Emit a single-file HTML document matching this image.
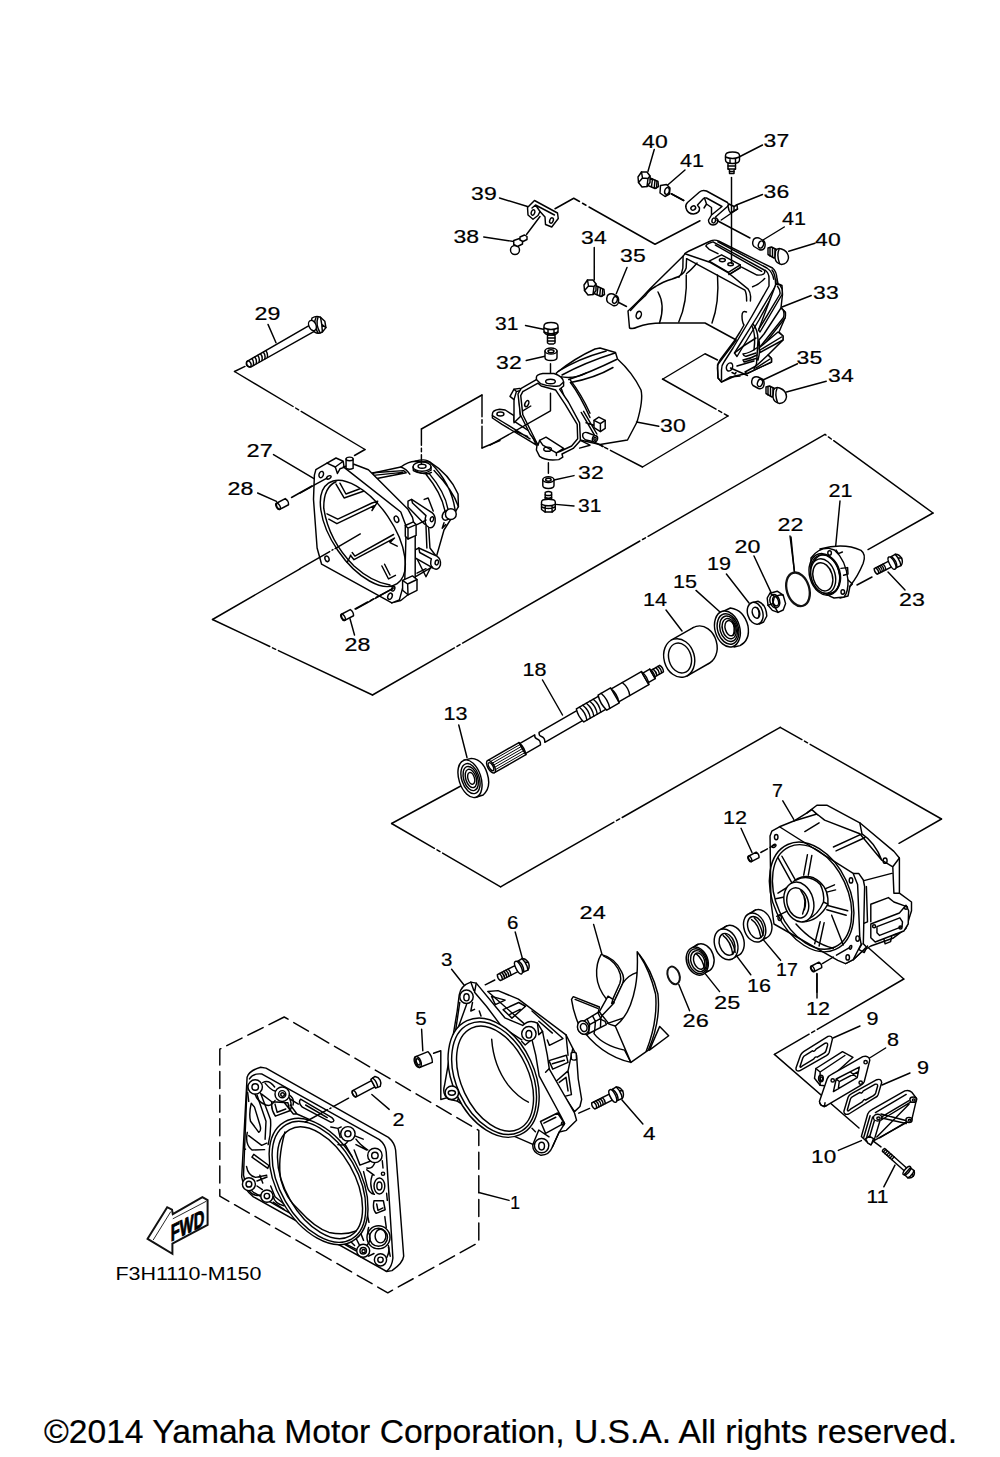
<!DOCTYPE html>
<html lang="en">
<head>
<meta charset="utf-8">
<title>Jet Unit 1 - Parts Diagram</title>
<style>
html,body{margin:0;padding:0;background:#fff;}
body{width:1000px;height:1457px;overflow:hidden;position:relative;font-family:"Liberation Sans",Arial,Helvetica,sans-serif;}
svg{position:absolute;left:0;top:0;display:block;}
.d{fill:none;stroke:#000;stroke-width:1.45;stroke-linecap:round;stroke-linejoin:round;}
.d path,.d line,.d polyline,.d ellipse,.d circle,.d rect,.d polygon{vector-effect:non-scaling-stroke;}
.w{fill:#fff;}
.k{fill:#000;}
.t{stroke-width:1;}
.ph{stroke-dasharray:42 4 3 4;}
text{font-family:"Liberation Sans",Arial,Helvetica,sans-serif;fill:#000;stroke:#000;stroke-width:0.2;}
.n{font-size:18.4px;}
</style>
</head>
<body>
<svg width="1000" height="1457" viewBox="0 0 1000 1457">
<rect x="0" y="0" width="1000" height="1457" fill="#fff"/>
<!-- 10_tileA -->
<g class="d" transform="translate(480 120) scale(0.25)">
<!-- phantom line 39 -> 36 -->
<path d="M300,355 L375,313 L398,326 M410,333 L424,341 M436,348 L700,497 L880,403"/>
<!-- bracket 39 -->
<path class="w" d="M190,350 L218,322 L310,372 L313,394 L287,428 L262,418 L260,388 L240,366 L232,382 L212,397 L192,380 Z"/>
<path d="M222,340 L298,380 M240,366 L222,340 L208,352"/>
<ellipse cx="212" cy="370" rx="7" ry="11" transform="rotate(20 212 370)"/>
<ellipse cx="286" cy="402" rx="7" ry="11" transform="rotate(20 286 402)"/>
<!-- leaders -->
<path d="M78,312 L190,346 M15,468 L135,486 M186,458 L240,386"/>
<!-- nipple 38 -->
<circle class="w" cx="140" cy="520" r="18"/>
<path class="w" d="M135,482 L158,474 L170,482 L170,496 L150,506 L135,498 Z"/>
<path class="w" d="M160,468 L178,460 L188,466 L188,478 L172,486 L160,480 Z"/>
<!-- bolt 40 left -->
<path d="M697,118 L672,205"/>
<path class="w" d="M680,232 L712,246 L714,266 L700,274 L672,262 Z"/>
<path d="M690,236 L686,266 M700,241 L697,270 M708,245 L706,272"/>
<path class="w" d="M632,228 L646,208 L668,208 L680,224 L680,250 L668,266 L648,268 L634,250 Z"/>
<path d="M646,208 L650,232 L634,250 M650,232 L672,234 L680,224 M672,234 L668,266"/>
<!-- collar 41 left -->
<path d="M820,200 L745,265 M765,295 L815,322"/>
<path class="w" d="M722,262 L746,258 L760,272 L758,296 L740,306 L720,292 Z"/>
<ellipse cx="748" cy="284" rx="9" ry="14" transform="rotate(15 748 284)"/>
<!-- 34 / 35 left leaders -->
<path d="M457,510 L457,640 M588,590 L545,695"/>
<!-- bolt 34 left -->
<path class="w" d="M462,662 L496,678 L498,698 L484,706 L456,694 Z"/>
<path d="M472,668 L468,698 M482,673 L479,702 M491,677 L489,704"/>
<path class="w" d="M416,660 L430,640 L452,640 L464,656 L464,682 L452,698 L432,700 L418,682 Z"/>
<path d="M430,640 L434,664 L418,682 M434,664 L456,666 L464,656 M456,666 L452,698"/>
</g>
<g class="n">
<text x="642.1" y="147.8" textLength="25.6" lengthAdjust="spacingAndGlyphs">40</text>
<text x="680.1" y="167.3" textLength="24.0" lengthAdjust="spacingAndGlyphs">41</text>
<text x="471.1" y="199.8" textLength="25.6" lengthAdjust="spacingAndGlyphs">39</text>
<text x="453.5" y="243" textLength="25.6" lengthAdjust="spacingAndGlyphs">38</text>
<text x="581.1" y="243.8" textLength="25.6" lengthAdjust="spacingAndGlyphs">34</text>
<text x="620.1" y="261.8" textLength="25.6" lengthAdjust="spacingAndGlyphs">35</text>
</g>
<!-- 11_tileB -->
<g class="d" transform="translate(660 120) scale(0.25)">
<!-- leaders -->
<path d="M410,100 L318,147 M410,298 L305,340 M497,428 L412,480 M620,493 L515,525"/>
<!-- vertical line from 37 -->
<!-- bolt 37 -->
<path class="w" d="M272,172 L272,196 L278,200 L278,214 L296,214 L296,200 L302,196 L302,172 Z"/>
<path d="M272,184 L302,184 M272,196 L302,196 M278,206 L296,206"/>
<path class="w" d="M262,142 Q262,128 290,128 Q318,128 318,142 L318,160 Q318,174 290,174 Q262,174 262,160 Z"/>
<path d="M262,148 Q290,160 318,148 M280,156 L280,173 M302,155 L302,172"/>
<!-- line 41L to bracket -->
<path d="M45,295 L95,322"/>
<!-- bracket 36 -->
<path class="w" d="M104,352 Q100,340 110,330 L158,288 Q170,278 186,284 L270,330 Q276,336 272,344 L222,388 L232,400 Q232,418 212,420 Q194,418 194,400 L206,380 L248,346 L186,312 Q178,310 172,316 L150,340 L158,352 Q160,372 134,376 Q110,376 104,352 Z"/>
<path d="M178,312 L186,336 L206,350 L206,378 M186,336 L176,352"/>
<ellipse cx="133" cy="352" rx="10" ry="8" transform="rotate(-35 133 352)"/>
<ellipse cx="215" cy="402" rx="7" ry="10" transform="rotate(15 215 402)"/>
<!-- tab -->
<path class="w" d="M272,344 L276,336 L296,346 L308,340 L310,356 L282,372 L276,362 Z"/>
<path d="M296,346 L296,362 M310,356 L245,400"/>
<!-- line from bracket to collar 41R -->
<path d="M228,402 L360,472"/>
<!-- collar 41R -->
<path class="w" d="M372,484 Q376,468 396,472 L416,484 Q424,496 418,512 Q410,524 396,518 L376,506 Q368,498 372,484 Z"/>
<ellipse cx="404" cy="498" rx="10" ry="15" transform="rotate(20 404 498)"/>
<!-- bolt 40R -->
<path class="w" d="M432,512 L446,508 L470,520 L470,546 L456,552 L432,538 Z"/>
<path d="M440,510 L440,544 M450,512 L450,548 M460,516 L460,550"/>
<path class="w" d="M462,524 Q470,510 486,516 Q514,526 514,552 Q510,576 486,578 Q462,572 460,552 Z"/>
<path d="M476,518 Q466,540 478,574"/>
</g>
<g class="n">
<text x="763.6" y="147.3" textLength="25.6" lengthAdjust="spacingAndGlyphs">37</text>
<text x="763.6" y="197.8" textLength="25.6" lengthAdjust="spacingAndGlyphs">36</text>
<text x="782.1" y="224.8" textLength="24.0" lengthAdjust="spacingAndGlyphs">41</text>
<text x="815.1" y="245.8" textLength="25.6" lengthAdjust="spacingAndGlyphs">40</text>
</g>
<!-- 12_tileC -->
<g class="d" transform="translate(600 230) scale(0.25)">
<!-- phantom under 33 -->
<path d="M470,520 L420,495 L250,597"/>
<!-- cover 33 silhouette -->
<path class="w" d="M118,392 L112,324 Q150,290 200,235 L335,102 Q338,92 352,86 L440,45 Q458,36 476,45 L690,152 Q706,165 708,195 L712,215 L728,222 L730,258 L724,310 L742,330 L740,352 L716,408 L732,424 L732,440 L672,500 L686,514 L686,528 L588,574 L540,584 L486,608 L472,592 L470,540 L545,440 L420,372 L250,372 Q190,372 150,388 Q130,398 118,392 Z"/>
<!-- ear hole -->
<ellipse cx="155" cy="340" rx="10" ry="15" transform="rotate(20 155 340)"/>
<!-- top of 33 (9.09x coords, origin 680,235) -->
<g transform="translate(320 20) scale(0.44)">
<path d="M345,62 L790,300 Q842,336 852,402"/>
<path d="M235,100 Q240,84 268,74 L300,62 L762,316 Q780,332 762,352 Q745,368 700,364 L560,292 M235,100 L265,130 L345,170 M322,92 L742,330"/>
<path class="w" d="M265,238 L378,180 L548,272 L548,295 L445,360 L440,340 Z"/>
<path d="M440,340 L548,272 M460,352 L548,300"/>
<ellipse cx="385" cy="228" rx="27" ry="15"/>
<ellipse cx="460" cy="266" rx="25" ry="14"/>
<path d="M45,170 L265,245 M265,245 L440,345 L620,492 Q640,520 642,560 L640,600"/>
<path d="M60,215 L590,502 Q606,530 606,600"/>
<path d="M28,192 L26,300 Q20,350 -10,385 M60,215 L56,300 Q40,350 -5,372 M155,255 Q100,320 60,350"/>
<path d="M660,470 Q720,450 770,396"/>
</g>
<!-- hood contours -->
<path d="M315,186 Q300,192 289,196 Q250,208 224,225 Q195,240 182,262"/>
<path d="M232,248 Q262,300 238,372"/>
<path d="M345,180 Q350,290 315,368"/>
<path d="M470,180 Q478,290 448,372"/>
<path d="M182,262 Q150,290 122,322"/>
<!-- leg (10x coords) -->
<g transform="translate(400 120) scale(0.4)">
<path d="M465,520 Q420,500 420,560 Q420,620 440,650 L400,720 L350,800 L200,1000 Q175,1030 175,1080 L180,1180 L215,1220 L300,1170 L400,1160"/>
<path d="M650,100 Q690,130 690,180 L690,260 L520,560 L330,880 L240,1020 Q215,1050 215,1100 L215,1200"/>
<path d="M720,100 Q760,150 755,260 L570,570 L345,930 L370,965 L590,600 L765,280 Q775,230 770,200"/>
<path class="w" d="M760,240 L800,250 Q830,290 820,345 L600,720 L585,700 Z"/>
<path d="M775,262 Q805,300 800,340 L590,690"/>
<path class="w" d="M810,480 L850,520 Q860,550 850,580 L600,900 L590,800 L640,740 Z"/>
<path d="M835,510 Q845,545 835,575 L600,870"/>
<path class="w" d="M780,720 L830,760 L830,800 L600,925 L590,880 Z"/>
<path d="M815,770 L600,900"/>
<path class="w" d="M680,950 L715,985 L715,1020 L470,1135 L450,1120 L560,1060 Z"/>
<path d="M700,990 L560,1080"/>
<path d="M530,640 Q580,700 580,800 L565,1040 L540,1090 M520,660 Q560,740 540,900 M580,800 Q610,900 580,1000"/>
<path d="M345,930 Q440,850 560,780 M430,940 Q500,930 565,880 M430,940 Q440,970 470,960 L560,930 M430,1000 Q500,990 570,950 M430,1000 L440,1020 L560,985 M370,1060 L540,1010"/>
<ellipse cx="295" cy="1070" rx="30" ry="42" transform="rotate(20 295 1070)"/>
<path d="M320,1125 L350,1140 L360,1125"/>
</g>
<!-- lines to collars -->
<path d="M75,290 L106,306 M522,552 L590,582" />
<!-- collar 35 left -->
<path class="w" d="M28,268 Q32,252 52,256 L70,266 Q78,278 72,294 Q66,306 52,302 L32,290 Q24,282 28,268 Z"/>
<ellipse cx="60" cy="280" rx="9" ry="14" transform="rotate(20 60 280)"/>
<!-- collar 35 right -->
<path class="w" d="M608,600 Q612,584 632,588 L652,598 Q660,610 654,626 Q648,638 634,634 L612,622 Q604,614 608,600 Z"/>
<ellipse cx="640" cy="612" rx="10" ry="15" transform="rotate(20 640 612)"/>
<!-- bolt 34 right -->
<path class="w" d="M664,628 L678,624 L702,636 L702,662 L688,668 L664,654 Z"/>
<path d="M672,626 L672,660 M682,628 L682,664 M692,632 L692,666"/>
<path class="w" d="M694,640 Q702,626 718,632 Q746,642 746,668 Q742,692 718,694 Q694,688 692,668 Z"/>
<path d="M708,634 Q698,656 710,690"/>
<!-- leaders -->
<path d="M845,262 L728,308 M790,535 L652,600 M905,605 L746,648"/>
</g>
<g class="n">
<text x="813.1" y="298.8" textLength="25.6" lengthAdjust="spacingAndGlyphs">33</text>
<text x="796.6" y="363.8" textLength="25.6" lengthAdjust="spacingAndGlyphs">35</text>
<text x="828.1" y="382.3" textLength="25.6" lengthAdjust="spacingAndGlyphs">34</text>
</g>
<!-- 12b_vline -->
<path class="d" d="M731.500,177.500 L731.500,263.500"/>
<!-- 13_tileD -->
<!-- part 30 body (4x coords, origin 470,300) -->
<g class="d" transform="translate(470 300) scale(0.25)">
<path class="w" d="M345,292 Q420,232 500,196 L520,192 L582,210 L590,236 Q650,290 684,360 Q694,400 668,488 L630,560 L520,578 L440,560 L360,340 Z"/>
<path d="M352,286 Q430,236 545,204 M368,300 Q460,250 580,212 M395,318 Q480,290 586,238 M402,330 Q500,312 572,270"/>
<path d="M402,330 Q440,380 480,470"/>
<!-- leaders -->
<path d="M755,505 L666,488 M222,102 L298,118 M225,242 L300,225"/>
<path d="M322,255 L322,322"/>
<!-- bolt 31 top -->
<path class="w" d="M310,140 L310,172 L316,176 L334,176 L340,172 L340,140 Z"/>
<path d="M310,152 L340,152 M310,164 L340,164"/>
<path class="w" d="M296,104 Q296,90 324,90 Q352,90 352,104 L352,124 Q352,140 324,140 Q296,140 296,124 Z"/>
<path d="M296,112 Q324,124 352,112 M312,120 L312,138 M336,120 L336,138 M296,128 Q324,142 352,128"/>
<!-- collar 32 top -->
<path class="w" d="M300,204 L300,230 Q300,242 324,242 Q348,242 348,230 L348,204 Z"/>
<ellipse class="w" cx="324" cy="204" rx="24" ry="12"/>
<ellipse cx="324" cy="205" rx="12" ry="6"/>
</g>
<!-- part 30 ring (6.25x coords, origin 490,370) -->
<g class="d" transform="translate(490 370) scale(0.16)">
<!-- body inner lines -->
<path d="M500,60 Q570,150 625,270 M430,40 Q520,60 600,20"/>
<!-- foot bracket -->
<path class="w" d="M15,275 Q15,250 60,245 L95,250 L150,285 L150,320 L250,385 L290,470 L250,445 L75,340 L15,300 Z"/>
<path d="M15,285 L80,325 L250,430 M160,385 L235,415"/>
<ellipse cx="65" cy="275" rx="22" ry="12"/>
<path class="w" d="M125,165 L150,120 L185,115 L195,120 L180,150 L190,290 L150,330 L150,185 Z"/>
<path d="M150,120 L165,135 L150,185 M165,135 L185,130"/>
<!-- ring -->
<path class="w" d="M290,45 Q290,30 330,22 L400,22 Q455,40 460,75 L460,100 L435,120 L490,200 L560,330 L565,440 L520,490 L450,525 L455,545 L430,560 Q350,570 310,540 L290,500 L295,460 L250,400 L190,280 L175,150 L195,115 L290,60 Z"/>
<path d="M205,135 L300,82 L320,100 L410,125 L420,140 L470,215 L545,340 L548,430 L510,475 L440,508 L415,518 L415,535 M415,518 L460,490 L350,420 L310,440 L300,470 L265,400 L205,280 L192,160 L205,135"/>
<path d="M290,60 L315,85 Q380,110 435,98 L460,75 M310,440 L330,470 L415,518"/>
<ellipse cx="378" cy="72" rx="30" ry="14"/>
<ellipse cx="360" cy="495" rx="24" ry="13"/>
<ellipse cx="230" cy="210" rx="11" ry="20" transform="rotate(25 230 210)"/>
<path d="M255,225 L205,255"/>
<!-- pivot -->
<path d="M570,265 L655,410 M585,258 L668,400 M565,440 L625,470 L560,488 M600,330 L650,345"/>
<path class="w" d="M650,315 L680,295 L720,315 L720,365 L690,385 L650,360 Z"/>
<path d="M650,315 L690,335 L720,315 M690,335 L690,385"/>
<path class="w" d="M580,400 Q590,385 610,392 L660,412 L655,450 L600,438 Q575,425 580,400 Z"/>
<ellipse class="w" cx="656" cy="430" rx="16" ry="20" transform="rotate(15 656 430)"/>
<ellipse cx="656" cy="430" rx="7" ry="9" transform="rotate(15 656 430)"/>
<!-- phantom from ring boss -->
<path d="M378,145 L378,255 L0,470"/>
<!-- bottom collar/bolt -->
<path d="M365,580 L365,645 M525,660 L400,688 M525,850 L410,840"/>
<path class="w" d="M330,685 L330,722 Q330,740 365,740 Q400,740 400,722 L400,685 Z"/>
<ellipse class="w" cx="365" cy="685" rx="35" ry="18"/>
<ellipse cx="365" cy="686" rx="17" ry="9"/>
<path class="w" d="M345,765 Q365,755 385,765 L385,815 L345,815 Z"/>
<path d="M345,780 Q365,790 385,780 M345,797 Q365,807 385,797"/>
<path class="w" d="M322,825 Q322,808 365,808 Q408,808 408,825 L408,872 L388,888 L345,888 L322,872 Z"/>
<path d="M322,840 Q365,858 408,840 M345,850 L345,888 M388,850 L388,888 M322,856 Q365,874 408,856"/>
</g>
<g class="n">
<text x="495.1" y="329.8" textLength="23.4" lengthAdjust="spacingAndGlyphs">31</text>
<text x="496.1" y="369.3" textLength="25.6" lengthAdjust="spacingAndGlyphs">32</text>
<text x="660.1" y="432.3" textLength="25.6" lengthAdjust="spacingAndGlyphs">30</text>
<text x="578.1" y="479.3" textLength="25.6" lengthAdjust="spacingAndGlyphs">32</text>
<text x="578.1" y="512.3" textLength="23.4" lengthAdjust="spacingAndGlyphs">31</text>
</g>
<!-- 14_tileE -->
<!-- part 27 (5.556x coords, origin 300,440) -->
<g class="d" transform="translate(300 440) scale(0.18)">
<!-- rear cone / ring -->
<path class="w" d="M400,185 L560,150 Q600,120 640,118 L720,122 Q830,190 878,300 L880,370 L860,405 L800,500 L760,640 L700,760 L600,560 Z"/>
<path d="M560,150 Q590,160 610,190 M640,118 Q700,100 722,124 M722,124 Q840,240 862,390 M640,170 Q700,200 730,180 M700,190 Q790,300 806,400 M716,184 Q806,290 822,384 M745,170 Q850,280 880,370"/>
<ellipse class="w" cx="678" cy="148" rx="50" ry="26"/>
<ellipse cx="678" cy="146" rx="22" ry="11"/>
<path d="M628,150 L630,170 Q680,200 728,168 L728,150"/>
<circle class="w" cx="838" cy="412" r="30"/>
<path d="M815,392 Q790,400 790,430 Q800,455 825,440 M800,460 L790,490 L810,470"/>
<!-- top vanes -->
<path d="M405,182 L575,170 L590,182 L420,215 Z M420,195 L570,180"/>
<!-- lugs right -->
<path class="w" d="M600,340 L620,330 L735,405 Q755,420 750,460 Q740,495 715,485 L690,465 L600,372 Z"/>
<ellipse cx="733" cy="440" rx="9" ry="14" transform="rotate(15 733 440)"/>
<path d="M620,330 L625,350 L700,420 Q690,450 700,470 M650,470 L700,445 M690,330 L712,322 L740,395 M700,480 L705,600 M715,490 L722,600 L760,650"/>
<path class="w" d="M640,610 L660,600 L760,645 Q785,660 780,695 Q770,725 745,715 L640,655 Z"/>
<ellipse cx="760" cy="680" rx="9" ry="14" transform="rotate(15 760 680)"/>
<path d="M660,600 L665,625 L730,660 Q720,690 735,710 M640,760 L735,705 M650,740 L700,715"/>
<!-- flange thickness -->
<path class="w" d="M240,150 L300,135 L380,165 L600,385 L625,430 L640,500 L640,800 L612,850 L560,892 L510,905 L520,400 Z"/>
<!-- flange front face -->
<path class="w" d="M80,195 L88,165 L150,128 L196,150 L208,186 L222,160 L245,152 L560,400 L590,480 L582,780 L552,888 L510,905 L470,882 L120,690 L95,600 L75,330 Z"/>
<path d="M150,128 L200,100 L240,118 L245,152 M196,150 L240,118"/>
<!-- opening -->
<ellipse cx="349" cy="519" rx="338" ry="168" transform="rotate(55.6 349 519)"/>
<path d="M200,232 Q130,262 132,380 Q160,560 300,700 Q400,790 500,806"/>
<!-- inner vanes -->
<path d="M200,245 L245,322 L352,285 M222,240 L255,300 L330,272 M150,410 L210,440 L400,350 L432,340 M160,440 L205,465 L412,365 L400,392 L430,345 M280,640 L300,665 L525,545 L500,570 L540,590 M290,625 L305,645 L520,525 M455,700 L492,772 L530,752 M470,690 L500,750 M262,680 L282,640"/>
<!-- holes -->
<ellipse cx="118" cy="192" rx="12" ry="18" transform="rotate(20 118 192)"/>
<ellipse cx="536" cy="440" rx="12" ry="18" transform="rotate(-20 536 440)"/>
<ellipse cx="150" cy="660" rx="11" ry="16" transform="rotate(-20 150 660)"/>
<ellipse cx="500" cy="868" rx="12" ry="18" transform="rotate(20 500 868)"/>
<ellipse cx="160" cy="208" rx="14" ry="8" transform="rotate(-30 160 208)"/>
<ellipse cx="518" cy="826" rx="8" ry="14" transform="rotate(20 518 826)"/>
<!-- pads -->
<path class="w" d="M585,475 L630,455 L645,470 L645,530 L600,550 L585,535 Z"/>
<path d="M585,475 L600,490 L645,470 M600,490 L600,550"/>
<path class="w" d="M570,780 L625,755 L650,775 L650,835 L600,860 L570,835 Z"/>
<path d="M570,780 L598,800 L650,775 M598,800 L600,860"/>
<!-- top pin -->
<path class="w" d="M256,105 L256,158 Q275,168 295,158 L295,105 Z"/>
<ellipse class="w" cx="275.500" cy="105" rx="19.500" ry="10"/>
<!-- center lines -->
<path d="M0,715 L165,620 M195,603 L335,522 M178,612 L183,609"/>
<path d="M0,295 L60,262 M78,251 L150,212 M66,258 L71,255"/>
<path d="M310,940 L400,890 M418,880 L520,822 M406,886 L411,883"/>
</g>
<!-- 15_bolt29 -->
<!-- bolt 29 (6.25x coords, origin 220,290) -->
<g class="d" transform="translate(220 290) scale(0.16)">
<path d="M300,215 L350,330"/>
<path class="w" d="M172,444 L575,212 L600,252 L192,482 Q170,480 165,465 Q165,450 172,444 Z"/>
<ellipse cx="180" cy="462" rx="13" ry="20" transform="rotate(-28 180 462)"/>
<path d="M200,430 Q214,446 208,470 M218,420 Q232,436 226,460 M236,410 Q250,426 244,450 M254,400 Q268,416 262,440 M272,390 Q286,406 280,430 M288,380 Q300,398 296,420"/>
<path class="w" d="M575,175 Q600,160 628,170 L655,195 L662,235 L640,262 Q615,280 590,262 Q560,230 575,175 Z"/>
<path d="M600,172 Q580,210 612,268 M612,172 Q596,215 625,266 M628,170 L636,215 L640,262 M636,215 L662,235"/>
<ellipse class="w" cx="578" cy="222" rx="22" ry="34" transform="rotate(-25 578 222)"/>
</g>
<text class="n" x="254.6" y="319.9" textLength="25.8" lengthAdjust="spacingAndGlyphs">29</text>
<!-- 16_ph1 -->
<g class="d">
<path d="M245.0,366.4 L234.5,371.5 "/>
<path d="M234.5,371.5 L293.1,406.5 M295.6,408.0 L298.6,409.8 M301.2,411.4 L365.0,449.5 "/>
<path d="M365.0,449.5 L354.5,455.5 "/>
<path d="M421.4,464.0 L421.4,454.8 M421.4,451.8 L421.4,448.2 M421.4,445.2 L421.4,429.0 "/>
<path d="M421.4,429.0 L482.0,395.0 "/>
<path d="M482.0,395.0 L482.0,416.8 M482.0,419.8 L482.0,423.2 M482.0,426.2 L482.0,448.0 "/>
<path d="M482.0,448.0 L500.0,440.5 "/>
<path d="M291.5,497.5 L312.0,486.0 "/>
<path d="M355.0,608.8 L367.7,602.0 M370.3,600.6 L373.4,598.9 M376.1,597.5 L392.5,588.8 "/>
<path d="M595.0,442.5 L603.0,446.5 "/>
<path d="M603.0,446.5 L601.9,446.0 M604.6,447.3 L607.7,448.9 M610.4,450.3 L642.5,467.0 "/>
<path d="M642.5,467.0 L728.0,416.0 "/>
<path d="M728.0,416.0 L724.3,413.9 M721.7,412.4 L718.6,410.7 M716.0,409.2 L662.5,379.0 "/>
</g>
<!-- 17_ph2 -->
<g class="d">
<path d="M212.5,619.5 L300.0,568.9 "/>
<path d="M212.5,619.5 L269.8,646.5 M272.5,647.8 L275.7,649.3 M278.4,650.6 L372.5,695.0 "/>
<path d="M372.5,695.0 L454.4,647.9 M457.0,646.4 L460.0,644.6 M462.6,643.1 L639.9,541.0 M642.5,539.5 L645.5,537.8 M648.1,536.3 L825.0,434.4 "/>
<path d="M825.0,434.4 L826.0,435.1 M828.4,436.9 L831.3,439.0 M833.7,440.7 L933.0,513.0 "/>
<path d="M933.0,513.0 L868.0,549.6 "/>
<path d="M470.0,781.0 L391.6,823.5 "/>
<path d="M391.6,823.5 L434.4,848.3 M437.0,849.8 L440.0,851.6 M442.6,853.1 L500.6,886.8 "/>
<path d="M500.6,886.8 L613.9,822.2 M616.5,820.7 L619.6,818.9 M622.2,817.5 L780.2,727.3 "/>
<path d="M780.2,727.3 L801.9,739.6 M804.5,741.1 L807.5,742.8 M810.1,744.3 L941.5,819.0 "/>
<path d="M941.5,819.0 L899.0,843.3 "/>
</g>
<!-- 18_pins28 -->
<g class="d">
<path d="M273.500,454.600 L314,478.600 M257.600,493 L276.500,501.400 M350,618.750 L354.500,635"/>
<g transform="translate(282.5 504) rotate(-28)"><path class="w" d="M-5,-3.500 L5,-3.500 Q7,0 5,3.500 L-5,3.500 Q-7.500,0 -5,-3.500 Z"/><ellipse cx="-5" cy="0" rx="1.800" ry="3.500"/></g>
<g transform="translate(347.5 615) rotate(-28)"><path class="w" d="M-5,-3.500 L5,-3.500 Q7,0 5,3.500 L-5,3.500 Q-7.500,0 -5,-3.500 Z"/><ellipse cx="-5" cy="0" rx="1.800" ry="3.500"/></g>
</g>
<g class="n">
<text x="246.6" y="457.0" textLength="26.2" lengthAdjust="spacingAndGlyphs">27</text>
<text x="227.6" y="495.4" textLength="25.8" lengthAdjust="spacingAndGlyphs">28</text>
<text x="344.6" y="651.3" textLength="25.8" lengthAdjust="spacingAndGlyphs">28</text>
</g>
<!-- 19_ph3 -->
<g class="d">
<path d="M866.4,946.0 L903.8,979.0 "/>
<path d="M903.8,979.0 L817.3,1029.4 M814.7,1030.9 L811.7,1032.7 M809.1,1034.2 L774.4,1054.4 "/>
</g>
<!-- 20_shaft -->
<!-- shaft 18 and seal 13: axis coords (4x), origin seal centre -->
<g class="d" transform="translate(430 640) scale(0.25)">
<path d="M450,160 L530,300 M115,340 L148,470"/>
<g transform="translate(160 555) rotate(-29.9)">
<!-- seal 13 -->
<g transform="rotate(12)"><path class="w" d="M0,-78 L30,-76 Q72,-60 72,0 Q72,60 30,78 L0,78 Z"/>
<ellipse class="w" cx="0" cy="0" rx="44" ry="78"/>
<ellipse cx="2" cy="0" rx="35" ry="62"/>
<ellipse cx="3" cy="0" rx="28" ry="50"/>
<ellipse cx="4" cy="0" rx="21" ry="38"/>
<ellipse class="w" cx="5" cy="0" rx="13" ry="24"/></g>
<!-- spline -->
<path class="w" d="M97,-28 L242,-28 L242,28 L97,28 Z"/>
<path class="t" d="M97,-19 L242,-19 M97,-9.5 L242,-9.5 M97,0 L242,0 M97,9.5 L242,9.5 M97,19 L242,19"/>
<ellipse class="w" cx="97" cy="0" rx="13" ry="28"/>
<ellipse cx="97" cy="0" rx="8" ry="18"/>
<path class="w" d="M242,-23 L312,-23 Q304,-12 312,-4 Q322,8 312,23 L242,23 Z"/>
<path d="M242,-28 Q252,0 242,28"/>
<!-- shaft after break -->
<path class="w" d="M332,-23 L508,-23 L508,23 L332,23 Q342,8 332,-4 Q324,-12 332,-23 Z"/>
<!-- grooved -->
<path class="w" d="M508,-30 L611,-30 L611,30 L508,30 Q498,0 508,-30 Z"/>
<path d="M522,-30 Q534,0 522,30 M538,-30 Q550,0 538,30 M554,-30 Q566,0 554,30 M570,-30 Q582,0 570,30 M586,-30 Q598,0 586,30"/>
<path class="w" d="M611,-35 L669,-35 L669,35 L611,35 Q600,0 611,-35 Z"/>
<path d="M625,-35 Q637,0 625,35"/>
<path class="w" d="M669,-30 L808,-30 L808,30 L669,30 Q680,0 669,-30 Z"/>
<path d="M720,-30 Q732,0 720,30"/>
<path class="w" d="M808,-22 L842,-22 L842,22 L808,22 Z"/>
<path d="M808,-30 Q820,0 808,30"/>
<path class="w" d="M842,-15 L884,-15 Q892,0 884,15 L842,15 Z"/>
<path d="M842,-22 Q852,0 842,22 M854,-15 Q860,0 854,15 M866,-15 Q872,0 866,15 M876,-15 Q882,0 876,15"/>
</g>
</g>
<g class="n">
<text x="522.6" y="675.8" textLength="24.0" lengthAdjust="spacingAndGlyphs">18</text>
<text x="443.6" y="720.3" textLength="24.0" lengthAdjust="spacingAndGlyphs">13</text>
</g>
<!-- 21_tileG -->
<!-- parts 14,15,19,20,22 (5x coords, origin 640,540) -->
<g class="d" transform="translate(640 540) scale(0.2)">
<path d="M130,350 L210,455 M280,252 L400,360 M432,170 L545,315 M570,80 L655,262 M755,-15 L772,160"/>
<!-- spacer 14 -->
<ellipse class="w" cx="308" cy="526" rx="76" ry="98" transform="rotate(-16 308 526)"/>
<path d="M156,501 L268,437 L348,615 L236,679 Z" fill="#fff" stroke="none"/>
<path d="M156,501 L268,437 M236,679 L348,615"/>
<ellipse class="w" cx="196" cy="590" rx="76" ry="98" transform="rotate(-16 196 590)"/>
<ellipse cx="200" cy="590" rx="56" ry="76" transform="rotate(-16 200 590)"/>
<!-- bearing 15 -->
<path class="w" d="M410,360 L452,340 Q520,350 540,430 Q552,500 500,528 L470,535 Z"/>
<ellipse class="w" cx="437" cy="445" rx="62" ry="92" transform="rotate(-16 437 445)"/>
<ellipse cx="440" cy="445" rx="52" ry="78" transform="rotate(-16 440 445)"/>
<ellipse cx="443" cy="444" rx="43" ry="65" transform="rotate(-16 443 444)"/>
<ellipse cx="446" cy="443" rx="34" ry="52" transform="rotate(-16 446 443)"/>
<ellipse cx="450" cy="441" rx="24" ry="39" transform="rotate(-16 450 441)"/>
<path d="M462,408 Q478,440 466,475"/>
<!-- washer 19 -->
<path class="w" d="M565,312 L590,306 Q630,320 634,380 L618,410 L596,420 Z"/>
<ellipse class="w" cx="576" cy="366" rx="38" ry="56" transform="rotate(-16 576 366)"/>
<ellipse cx="580" cy="364" rx="18" ry="28" transform="rotate(-16 580 364)"/>
<path d="M588,340 Q600,362 592,388"/>
<!-- nut 20 -->
<path class="w" d="M636,290 L650,266 L686,256 L716,276 L728,318 L716,350 L690,362 L662,352 L640,326 Z"/>
<path d="M650,266 L672,282 L706,274 L716,276 M672,282 L664,318 L690,362 M664,318 L640,326"/>
<ellipse cx="674" cy="306" rx="24" ry="34" transform="rotate(-16 674 306)"/>
<ellipse cx="678" cy="306" rx="14" ry="24" transform="rotate(-16 678 306)"/>
</g>
<!-- o-ring 22 -->
<ellipse cx="798" cy="589.3" rx="11.2" ry="17.2" transform="rotate(-17 798 589.3)" fill="none" stroke="#111" stroke-width="2.3"/>
<g class="n">
<text x="643.1" y="605.8" textLength="24.0" lengthAdjust="spacingAndGlyphs">14</text>
<text x="673.1" y="588.3" textLength="24.0" lengthAdjust="spacingAndGlyphs">15</text>
<text x="707.1" y="569.8" textLength="24.0" lengthAdjust="spacingAndGlyphs">19</text>
<text x="734.6" y="553.3" textLength="25.8" lengthAdjust="spacingAndGlyphs">20</text>
<text x="777.6" y="530.8" textLength="25.8" lengthAdjust="spacingAndGlyphs">22</text>
<text x="828.6" y="497.3" textLength="24.0" lengthAdjust="spacingAndGlyphs">21</text>
<text x="899.1" y="606.3" textLength="25.8" lengthAdjust="spacingAndGlyphs">23</text>
</g>
<!-- 22_part21 -->
<!-- parts 21, 23 (5x coords, origin 760,420) -->
<g class="d" transform="translate(760 420) scale(0.2)">
<path d="M400,405 L378,635 M150,580 L172,755 M640,760 L725,850 M485,825 L560,785"/>
<!-- cap 21 -->
<path class="w" d="M300,645 Q420,612 505,652 Q532,672 516,716 Q490,780 450,830 L440,880 L400,890 Z"/>
<path class="w" d="M255,690 Q290,640 345,642 L372,650 Q430,700 440,800 Q442,860 420,885 L370,890 Q290,860 255,760 Z"/>
<path d="M380,650 L392,668 L412,660 M405,742 L438,738 L440,770 L418,776 M440,800 L462,820 L450,832"/>
<ellipse cx="322" cy="772" rx="74" ry="106" transform="rotate(-16 322 772)"/>
<ellipse cx="326" cy="772" rx="70" ry="100" transform="rotate(-16 326 772)"/>
<ellipse cx="332" cy="770" rx="68" ry="98" transform="rotate(-16 332 770)"/>
<ellipse class="w" cx="316" cy="780" rx="60" ry="88" transform="rotate(-16 316 780)"/>
<ellipse cx="314" cy="784" rx="48" ry="72" transform="rotate(-16 314 784)"/>
<ellipse cx="348" cy="665" rx="9" ry="11"/>
<ellipse cx="414" cy="860" rx="9" ry="11"/>
<!-- bolt 23 -->
<g transform="translate(578 757) rotate(-27)">
<path class="w" d="M0,-16 L82,-16 L82,16 L0,16 Q-8,0 0,-16 Z"/>
<path d="M10,-16 Q16,0 10,16 M20,-16 Q26,0 20,16 M30,-16 Q36,0 30,16 M40,-16 Q46,0 40,16 M50,-16 Q56,0 50,16"/>
<path class="w" d="M96,-30 L126,-32 Q144,-24 146,0 Q144,24 126,32 L96,30 Z"/>
<path d="M104,-30 Q120,0 104,30 M126,-32 L130,-10 L146,0 M130,-10 L130,14 L126,32"/>
<ellipse class="w" cx="92" cy="0" rx="13" ry="34"/>
</g>
</g>
<!-- 30_part7 -->
<!-- part 7 duct (4.545x coords, origin 730,770) -->
<g class="d" transform="translate(730 770) scale(0.22)">
<path d="M240,140 L290,225 M50,265 L100,375 M230,865 L150,770 M395,925 L395,1010"/>
<!-- body -->
<path class="w" d="M225,258 L290,232 L350,195 L395,160 L440,160 L590,240 L745,370 L770,400 L770,560 L825,600 L825,640 L800,720 L740,765 L640,800 L600,825 L560,862 L300,600 Z"/>
<path d="M290,232 L395,200 L430,228 L590,290 L690,410 L740,440 M350,195 L372,180 L400,205 M340,280 L405,240 M470,350 L600,290 M482,368 L612,308 M590,240 L600,290 M600,290 Q660,330 690,410 M740,440 L770,400 M740,440 L745,560 L770,560 M600,505 L735,470 M620,530 L625,690 L600,700 M640,610 L720,580 L745,600 L800,620 M640,610 L640,690"/>
<!-- gasket face -->
<path class="w" d="M640,700 L770,650 L800,615 L812,640 L810,700 L790,732 L660,782 L640,762 Z"/>
<path d="M668,712 L772,672 L784,690 L782,712 L680,752 L668,740 Z M700,770 L705,790 L730,780 L735,755 M745,750 L760,745"/>
<circle cx="655" cy="710" r="7"/><circle cx="775" cy="716" r="7"/><circle cx="800" cy="626" r="7"/><ellipse cx="705" cy="412" rx="9" ry="12"/>
<path class="w" d="M585,515 Q595,508 605,515 L605,540 Q595,548 585,540 Z"/>
<!-- flange thickness -->
<path class="w" d="M560,470 L585,470 L606,500 L612,530 L606,790 L620,805 L600,825 L560,862 L525,880 Z"/>
<path d="M600,790 L585,815 L610,830 L625,800"/>
<!-- flange front -->
<path class="w" d="M182,300 L190,278 L225,258 L560,470 L580,520 L590,760 L596,792 L560,862 L525,880 L490,865 L200,700 L186,600 Z"/>
<!-- opening -->
<ellipse cx="371" cy="577" rx="262" ry="174" transform="rotate(65.5 371 577)"/>
<ellipse cx="373" cy="577" rx="250" ry="162" transform="rotate(65.5 373 577)"/>
<!-- vanes -->
<path d="M218,398 L285,520 M236,392 L300,505 M352,385 L335,478 M372,388 L356,478 M475,522 L432,540 M480,545 L440,555 M535,640 L440,615 M528,660 L440,635 M462,660 L515,795 M410,690 L385,790 M428,694 L405,800 M208,585 L258,575 M212,665 L262,640 M300,700 Q380,790 470,810 M218,560 L265,530"/>
<!-- hub -->
<path class="w" d="M275,520 Q320,470 380,490 Q440,520 445,585 L445,610 Q400,690 330,690 Z"/>
<path d="M300,500 Q360,470 410,520 Q430,560 425,600 L445,610 M425,600 Q400,660 350,680"/>
<ellipse class="w" cx="313" cy="600" rx="66" ry="92" transform="rotate(-16 313 600)"/>
<ellipse cx="308" cy="604" rx="48" ry="70" transform="rotate(-16 308 604)"/>
<path d="M322,548 Q355,590 330,655 M335,570 Q350,600 338,635"/>
<!-- flange holes -->
<ellipse cx="210" cy="305" rx="8" ry="12"/><ellipse cx="550" cy="502" rx="8" ry="12"/><ellipse cx="226" cy="672" rx="8" ry="12"/><ellipse cx="580" cy="766" rx="8" ry="12"/><ellipse cx="535" cy="852" rx="8" ry="12"/>
<ellipse cx="200" cy="345" rx="10" ry="6" transform="rotate(-30 200 345)"/>
<ellipse cx="548" cy="806" rx="5" ry="9" transform="rotate(20 548 806)"/>
<!-- pins 12 -->
<path d="M140,375 L170,358 M182,352 L205,340 M420,880 L470,850 M484,842 L545,806"/>
<g transform="translate(108 395) rotate(-28)"><path class="w" d="M-20,-14 L20,-14 Q28,0 20,14 L-20,14 Q-30,0 -20,-14 Z"/><ellipse cx="-20" cy="0" rx="7" ry="14"/></g>
<g transform="translate(393 895) rotate(-28)"><path class="w" d="M-20,-14 L20,-14 Q28,0 20,14 L-20,14 Q-30,0 -20,-14 Z"/><ellipse cx="-20" cy="0" rx="7" ry="14"/></g>
<!-- seal 17 -->
<ellipse class="w" cx="140" cy="700" rx="48" ry="68" transform="rotate(-20 140 700)"/><path d="M89,652 L117,636 M135,780 L163,764"/>
<ellipse class="w" cx="112" cy="716" rx="48" ry="68" transform="rotate(-20 112 716)"/>
<ellipse cx="116" cy="716" rx="34" ry="52" transform="rotate(-20 116 716)"/>
<path d="M98,680 Q130,700 140,760 M110,672 Q140,700 150,752"/>
</g>
<g class="n">
<text x="772.1" y="797.3" textLength="10.9" lengthAdjust="spacingAndGlyphs">7</text>
<text x="723.1" y="824.3" textLength="24.0" lengthAdjust="spacingAndGlyphs">12</text>
<text x="776.1" y="975.8" textLength="21.8" lengthAdjust="spacingAndGlyphs">17</text>
</g>
<!-- 31_tileI -->
<!-- impeller 24, seals 16,25, o-ring 26 (4.1667x coords, origin 560,880) -->
<g class="d" transform="translate(560 880) scale(0.24)">
<path d="M795,395 L735,315 M665,465 L605,390 M540,545 L495,435 M140,185 L175,310"/>
<!-- seal 16 -->
<ellipse class="w" cx="718" cy="253" rx="47" ry="66" transform="rotate(-20 718 253)"/><path d="M669,206 L695,191 M715,330 L741,315"/>
<ellipse class="w" cx="692" cy="268" rx="47" ry="66" transform="rotate(-20 692 268)"/>
<ellipse cx="696" cy="268" rx="31" ry="47" transform="rotate(-20 696 268)"/>
<path d="M680,232 Q712,255 720,310 M690,226 Q722,252 730,302"/>
<!-- seal 25 -->
<ellipse class="w" cx="596" cy="324" rx="44" ry="60" transform="rotate(-20 596 324)"/><path d="M551,282 L575,268 M593,394 L617,380"/>
<ellipse class="w" cx="572" cy="338" rx="44" ry="60" transform="rotate(-20 572 338)"/>
<ellipse cx="574" cy="338" rx="38" ry="53" transform="rotate(-20 574 338)"/>
<ellipse cx="577" cy="338" rx="31" ry="45" transform="rotate(-20 577 338)"/>
<ellipse cx="580" cy="338" rx="22" ry="35" transform="rotate(-20 580 338)"/>
<path d="M566,306 Q596,330 602,372"/>
</g>
<!-- impeller 24 (5.556x coords, origin 540,940) -->
<g class="d" transform="translate(540 940) scale(0.18)">
<path class="w" d="M665,480 L715,532 L608,612 Z"/>
<path class="w" d="M185,315 L330,372 L300,520 Q350,585 470,612 L505,680 Q330,640 215,470 Q185,400 175,330 Z"/>
<path d="M195,330 L320,380"/>
<path class="w" d="M340,80 Q310,130 315,200 Q320,270 372,332 L410,346 L460,240 Q470,210 455,180 Q420,100 340,80 Z"/>
<path d="M352,88 Q425,120 446,190 Q452,215 444,240 L404,330"/>
<path class="w" d="M460,240 Q490,195 540,180 L560,400 L380,462 L330,400 L410,346 Z"/>
<path class="w" d="M540,65 Q620,160 655,300 Q672,450 602,612 L505,680 L418,478 Q500,420 530,260 Q545,180 540,65 Z"/>
<path d="M552,82 Q610,170 642,300 Q656,450 590,618"/>
<path d="M418,478 Q390,470 372,462"/>
<!-- hub -->
<path class="w" d="M215,468 L330,398 L345,420 L335,440 L362,452 L368,470 L260,525 Q225,525 212,498 Z"/>
<path d="M262,440 L276,470 L270,518 M292,422 L308,452 L304,500 M322,404 L338,436 L336,484 M276,470 L308,452 L338,436"/>
<path class="w" d="M330,398 L378,312 L405,330 L398,352 L412,348 L345,420 Z"/>
<ellipse class="w" cx="240" cy="486" rx="31" ry="38" transform="rotate(-20 240 486)"/>
<ellipse cx="243" cy="486" rx="18" ry="23" transform="rotate(-20 243 486)"/>
</g>
<!-- o-ring 26 -->
<ellipse cx="673.6" cy="975.4" rx="5.8" ry="9.1" transform="rotate(-20 673.6 975.4)" fill="none" stroke="#111" stroke-width="2"/>
<g class="n">
<text x="747.1" y="992.3" textLength="24.0" lengthAdjust="spacingAndGlyphs">16</text>
<text x="714.1" y="1009.3" textLength="26.2" lengthAdjust="spacingAndGlyphs">25</text>
<text x="682.6" y="1027.3" textLength="26.2" lengthAdjust="spacingAndGlyphs">26</text>
<text x="579.6" y="918.8" textLength="26.2" lengthAdjust="spacingAndGlyphs">24</text>
</g>
<!-- 32_part3 -->
<!-- housing 3, bolts 4,6, collar 5 (4.1667x coords, origin 400,920) -->
<g class="d" transform="translate(400 920) scale(0.24)">
<path d="M215,205 L270,275 M480,50 L510,160 M90,455 L95,545 M925,750 L1012,850 M355,270 L395,250 M745,805 L790,785 M140,555 L170,545 L170,748 L212,736"/>
</g>
<!-- housing 3 body (5.882x coords, origin 430,960) -->
<g class="d" transform="translate(430 960) scale(0.17)">
<!-- rear plate -->
<path class="w" d="M340,185 L400,180 L520,230 L800,440 L840,520 L862,560 L872,700 L892,820 L882,862 L850,892 L700,700 L560,380 Z"/>
<path d="M362,214 L442,236 L384,262 Z M430,292 L522,250 L562,272 L482,342 Z M470,320 L530,290 M600,300 L782,462 L702,502 L690,470 M640,360 L720,430 M700,592 L802,560 L812,602 L722,642 Z M720,610 L790,590 M732,722 L812,652 L832,792 L792,802 Z M760,720 L800,690 L812,770 M800,440 L812,560 M790,800 L850,892 M812,652 L840,520"/>
<path class="w" d="M830,548 Q845,538 860,548 L862,584 Q846,594 832,584 Z"/>
<!-- front frame -->
<path class="w" d="M172,205 Q180,150 240,130 L272,136 L440,340 L545,385 Q585,345 632,372 L662,420 L690,560 L702,642 L850,900 L862,942 L802,1002 L760,1012 L720,1100 Q700,1150 650,1148 Q600,1130 605,1085 L480,1030 L160,830 L110,820 Q70,790 85,740 L120,540 L160,300 Z"/>
<path d="M272,136 L262,190 L332,272 L422,392 L540,470 M240,130 L258,180 M175,250 L150,420 M215,262 L165,400 M250,250 L240,300 L262,290 M290,300 L300,330 M600,470 L622,560 L642,682 L772,922 L792,962 L760,1012 M662,420 L640,440 L632,372 M700,640 L680,660 M540,480 L560,500 L590,475 M650,950 L750,900 L790,960 L680,1020 Z M670,960 L740,925 M605,1085 L640,1000 L700,1040 M620,1010 L600,990 M720,1100 L760,1012 M160,830 L175,800 L490,1000 L480,1030"/>
<circle cx="782" cy="962" r="9"/>
</g>
<g class="d" transform="translate(400 920) scale(0.24)">
<!-- ring -->
<ellipse class="w" cx="390" cy="657" rx="262" ry="170" transform="rotate(65 390 657)"/>
<ellipse cx="392" cy="659" rx="248" ry="157" transform="rotate(65 392 659)"/>
<ellipse cx="396" cy="661" rx="232" ry="140" transform="rotate(65 396 661)"/>
<path d="M382,497 Q390,607 450,687 Q490,737 535,759"/>
<!-- bosses -->
<circle class="w" cx="277" cy="320" r="28"/><ellipse cx="277" cy="322" rx="11" ry="15"/>
<circle class="w" cx="537" cy="474" r="30"/><ellipse cx="537" cy="476" rx="12" ry="16"/>
<circle class="w" cx="216" cy="720" r="28"/><ellipse cx="216" cy="720" rx="15" ry="10"/>
<circle class="w" cx="590" cy="940" r="30"/><ellipse cx="590" cy="942" rx="12" ry="16"/>
<!-- collar 5 -->
<g transform="translate(98 582) rotate(-22)"><path class="w" d="M-28,-24 L30,-24 Q40,0 30,24 L-28,24 Q-42,0 -28,-24 Z"/><ellipse cx="-26" cy="0" rx="13" ry="24"/><ellipse cx="-24" cy="0" rx="7" ry="14"/></g>
<!-- bolt 6 -->
<g transform="translate(412 240) rotate(-27)">
<path class="w" d="M0,-14 L82,-14 L82,14 L0,14 Q-8,0 0,-14 Z"/>
<path d="M10,-14 Q16,0 10,14 M20,-14 Q26,0 20,14 M30,-14 Q36,0 30,14 M40,-14 Q46,0 40,14 M50,-14 Q56,0 50,14"/>
<path class="w" d="M96,-25 L122,-27 Q136,-20 138,0 Q136,20 122,27 L96,25 Z"/>
<path d="M104,-25 Q116,0 104,25 M122,-27 L126,-9 L138,0 M126,-9 L126,12 L122,27"/>
<ellipse class="w" cx="92" cy="0" rx="11" ry="29"/>
</g>
<!-- bolt 4 -->
<g transform="translate(805 775) rotate(-27)">
<path class="w" d="M0,-14 L82,-14 L82,14 L0,14 Q-8,0 0,-14 Z"/>
<path d="M10,-14 Q16,0 10,14 M20,-14 Q26,0 20,14 M30,-14 Q36,0 30,14 M40,-14 Q46,0 40,14 M50,-14 Q56,0 50,14"/>
<path class="w" d="M96,-25 L122,-27 Q136,-20 138,0 Q136,20 122,27 L96,25 Z"/>
<path d="M104,-25 Q116,0 104,25 M122,-27 L126,-9 L138,0 M126,-9 L126,12 L122,27"/>
<ellipse class="w" cx="92" cy="0" rx="11" ry="29"/>
</g>
</g>
<g class="n">
<text x="441.1" y="966.0" textLength="11.4" lengthAdjust="spacingAndGlyphs">3</text>
<text x="507.1" y="929.3" textLength="11.4" lengthAdjust="spacingAndGlyphs">6</text>
<text x="415.3" y="1025.0" textLength="11.4" lengthAdjust="spacingAndGlyphs">5</text>
<text x="642.9" y="1139.6" textLength="12.5" lengthAdjust="spacingAndGlyphs">4</text>
</g>
<!-- 33_part1 -->
<!-- plate 1, bolt 2, dashed box (3.5714x coords, origin 210,1010) -->
<g class="d" transform="translate(210 1010) scale(0.28)">
<path stroke-dasharray="17 6.6" d="M265,25 L35,140 L35,665 L635,1010 L960,830 L960,430 L265,25"/>
<path d="M960,652 L1068,680 M640,355 L578,302"/>
</g>
<!-- plate 1 (5.556x coords, origin 230,1060) -->
<g class="d" transform="translate(230 1060) scale(0.18)">
<path class="w" d="M95,95 Q105,60 170,40 L200,45 L880,430 Q915,460 920,500 L965,1090 Q960,1130 900,1170 L870,1175 L130,760 Q75,720 65,650 Z"/>
<path d="M108,105 Q128,72 178,78 L830,442 Q865,470 868,512 L905,1100 Q900,1150 872,1172"/>
<path d="M95,140 L75,640 Q85,700 130,735 L700,1060"/>
<!-- webbing -->
<path d="M182,125 Q215,105 248,150 M170,185 L225,330 Q230,400 212,470 M150,195 L200,340 L195,440
M118,240 Q104,300 114,340 L160,402 Q176,392 166,360 L136,262 Z
M232,232 Q226,272 252,312 L332,282 L322,238 Z M250,245 L262,290 L310,272
M392,218 L566,320 Q590,342 562,346 L402,262 Q376,236 392,218 Z M420,250 L540,320
M335,250 L372,300 L440,330 M330,215 L380,245
M96,402 Q82,470 122,500 L192,498 M104,420 L176,474 L204,462 M80,470 Q70,490 86,496
M122,540 L210,602 L216,586 L132,524 Z
M92,592 Q100,642 142,652 L204,640 M150,672 L206,650 M166,640 L182,684 M226,700 L250,760 L300,800
M560,372 L600,380 L612,430 M600,380 L618,372
M690,500 L722,584 L786,560 M700,470 L760,500 M640,470 L680,540
M742,620 L762,702 Q772,742 802,746 M760,610 L800,640
M800,782 Q790,832 812,852 L862,832 L852,782 Z M815,800 L822,835 L850,822
M762,852 L772,902 M860,870 L868,930 M722,952 L742,1002 M700,930 L720,960
M196,130 Q230,170 250,172 M330,210 Q350,260 332,282 M300,235 L352,300 L372,300 M98,180 L104,230 M176,190 L232,232 M700,440 Q720,470 766,500 M690,420 L740,440 M846,560 L850,600 M790,640 Q770,700 800,746 M870,740 L874,780 M770,930 Q760,960 776,1010 M700,990 L720,1030 M150,700 L180,720 M240,790 L300,830 M640,1020 L702,1052 M662,1000 L692,1030 M770,1090 L800,1075 M880,1040 L890,1090"/>
<!-- opening -->
<ellipse class="w" cx="492" cy="675" rx="381" ry="230" transform="rotate(60.3 492 675)"/>
<ellipse cx="494" cy="677" rx="366" ry="215" transform="rotate(60.3 494 677)"/>
<ellipse cx="500" cy="682" rx="340" ry="191" transform="rotate(60.3 500 682)"/>
<path d="M305,400 Q262,560 283,667 Q310,770 383,833 Q470,930 550,958 Q640,975 700,950"/>
<!-- bosses -->
<circle class="w" cx="140" cy="150" r="40"/><circle cx="140" cy="150" r="18"/>
<circle class="w" cx="290" cy="190" r="40"/><circle cx="290" cy="190" r="20"/><circle cx="292" cy="192" r="10"/>
<circle class="w" cx="655" cy="410" r="40"/><circle cx="655" cy="410" r="17"/>
<circle class="w" cx="805" cy="530" r="40"/><circle cx="805" cy="530" r="18"/>
<circle class="w" cx="105" cy="690" r="36"/><circle cx="105" cy="690" r="16"/>
<circle class="w" cx="205" cy="756" r="34"/><circle cx="205" cy="756" r="15"/>
<circle class="w" cx="740" cy="1060" r="36"/><circle cx="740" cy="1060" r="18"/><circle cx="742" cy="1062" r="9"/>
<circle class="w" cx="836" cy="1110" r="34"/><circle cx="836" cy="1110" r="15"/>
<ellipse class="w" cx="830" cy="700" rx="30" ry="44"/><ellipse cx="830" cy="700" rx="14" ry="22"/>
<circle cx="850" cy="632" r="9"/>
<circle class="w" cx="825" cy="985" r="64"/><circle cx="825" cy="985" r="50"/><ellipse cx="836" cy="978" rx="30" ry="38"/>
<path d="M140,190 Q150,230 200,250 M250,225 Q230,260 200,250 M330,195 Q360,215 350,250 M655,450 Q640,480 600,470 M805,570 Q790,610 760,600 M105,726 Q130,760 170,750 M240,760 Q250,800 300,810 M760,1030 Q790,1000 770,960 M870,1100 Q890,1060 880,1030"/>
</g>
<g class="d" transform="translate(210 1010) scale(0.28)">
<!-- bolt 2 -->
<path d="M495,315 L440,345 M420,356 L340,400 M428,352 L432,350"/>
<g transform="translate(514 300) rotate(-28)">
<path class="w" d="M0,-13 L78,-13 L78,13 L0,13 Q-9,0 0,-13 Z"/>
<ellipse cx="2" cy="0" rx="6" ry="12"/>
<path class="w" d="M78,-18 L96,-20 Q106,-12 106,0 Q106,12 96,20 L78,18 Z"/>
<path d="M86,-19 Q94,0 86,19"/>
</g>
</g>
<g class="n">
<text x="392.6" y="1125.8" textLength="12.0" lengthAdjust="spacingAndGlyphs">2</text>
<text x="510.2" y="1209.3" textLength="9.8" lengthAdjust="spacingAndGlyphs">1</text>
</g>
<!-- 34_tileL -->
<!-- parts 8,9,10,11 (5x coords, origin 760,990) -->
<g class="d" transform="translate(760 990) scale(0.2)">
<path d="M72,322 L495,690"/>
<path d="M500,180 L365,240 M628,290 L548,340 M750,415 L610,475 M285,-80 L285,40"/>
<!-- gasket 9 upper -->
<path class="w" d="M180,390 L202,328 Q206,316 218,308 L340,232 Q360,226 362,246 L346,312 Q342,322 332,328 L198,404 Q178,408 180,390 Z"/>
<path d="M200,382 L214,340 Q218,330 228,326 L262,304 Q270,312 280,296 L326,266 Q340,262 338,276 L330,304 Q328,312 320,316 L286,336 Q276,330 268,346 L214,378 Q200,392 200,382 Z"/>
</g>
<!-- parts 8, 9 lower, 10, 11 (7.143x coords, origin 790,1030) -->
<g class="d" transform="translate(790 1030) scale(0.14)">
<path d="M345,860 L510,790 M670,1120 L750,965 M590,790 L650,835"/>
<!-- part 8 box -->
<path class="w" d="M185,275 L375,155 L450,195 L300,330 L265,400 L215,395 L175,345 Z"/>
<path d="M185,275 L215,300 L392,182 M215,300 L215,395"/>
<ellipse cx="221" cy="346" rx="17" ry="23"/><ellipse cx="224" cy="348" rx="9" ry="13"/>
<!-- part 8 flange -->
<path class="w" d="M210,510 L265,350 Q275,325 300,315 L520,190 Q565,180 570,215 L530,370 Q525,385 505,395 L260,540 Q215,550 210,510 Z"/>
<path d="M212,520 L220,536 L246,548 L262,540 M246,548 L250,520"/>
<path d="M310,440 L330,350 L495,265 L480,340 Z M330,350 L352,368 L484,300 M352,368 L345,420 M430,298 L470,332"/>
<circle cx="305" cy="360" r="12"/><circle cx="540" cy="230" r="12"/><circle cx="505" cy="376" r="12"/>
<!-- gasket 9 lower -->
<path class="w" d="M385,580 L415,480 Q420,465 440,455 L620,355 Q650,345 655,375 L630,460 Q625,475 610,482 L420,600 Q385,610 385,580 Z"/>
<path d="M410,570 L432,492 Q436,480 450,474 L500,446 Q510,460 524,434 L606,388 Q628,382 626,400 L612,450 Q608,462 596,468 L540,500 Q528,490 516,514 L432,566 Q410,588 410,570 Z"/>
<!-- cover 10 -->
<path class="w" d="M510,760 L555,600 Q562,580 585,568 L820,435 Q850,425 870,445 L905,490 L870,640 L600,790 L575,820 L540,790 Z"/>
<path d="M527,766 L572,612 M545,776 L590,622 M562,786 L606,636 M600,790 L642,650 M640,650 L870,510 M655,620 L850,505 M650,600 L840,650 M640,625 L830,668 M620,765 L850,530 M640,770 L860,640 M610,590 L830,460"/>
<ellipse class="w" cx="626" cy="626" rx="30" ry="24"/><ellipse cx="632" cy="630" rx="12" ry="9"/>
<ellipse class="w" cx="880" cy="498" rx="24" ry="19"/><ellipse cx="884" cy="500" rx="10" ry="8"/>
<ellipse class="w" cx="850" cy="642" rx="22" ry="18"/><ellipse cx="854" cy="644" rx="9" ry="7"/>
<path class="w" d="M540,778 L566,758 L596,776 L580,820 L556,808 Z"/>
<!-- bolt 11 -->
<g transform="translate(668 856) rotate(41.700)">
<path class="w" d="M0,-13 L215,-13 L215,13 L0,13 Q-8,0 0,-13 Z"/>
<path d="M10,-13 L10,13 M26,-13 L26,13 M42,-13 L42,13 M58,-13 L58,13 M74,-13 L74,13 M90,-13 L90,13"/>
<ellipse class="w" cx="222" cy="0" rx="14" ry="38"/>
<path class="w" d="M228,-32 L262,-34 Q284,-20 284,0 Q284,20 262,34 L228,32 Z"/>
<path d="M262,-34 L268,-12 L284,0 M268,-12 L268,14 L262,34 M236,-33 Q246,0 236,33"/>
</g>
</g>
<g class="n">
<text x="806.1" y="1015.3" textLength="24.0" lengthAdjust="spacingAndGlyphs">12</text>
<text x="866.6" y="1024.8" textLength="12.0" lengthAdjust="spacingAndGlyphs">9</text>
<text x="887.1" y="1046.3" textLength="12.0" lengthAdjust="spacingAndGlyphs">8</text>
<text x="917.1" y="1073.8" textLength="12.0" lengthAdjust="spacingAndGlyphs">9</text>
<text x="811.1" y="1162.8" textLength="25.1" lengthAdjust="spacingAndGlyphs">10</text>
<text x="866.6" y="1202.8" textLength="21.8" lengthAdjust="spacingAndGlyphs">11</text>
</g>
<!-- 35_fwd -->
<!-- FWD arrow -->
<g fill="none" stroke="#111" stroke-linejoin="miter">
<path fill="#fff" stroke-width="2" d="M147.6,1238.8 L167.2,1207.2 L172,1209.6 L172.8,1214.2 L202.4,1197.2 L207.6,1200 L207.6,1224.8 L172.4,1243.6 L172.4,1253.8 Z"/>
<path stroke-width="0.9" d="M170.8,1211.6 L153.2,1240 M172.8,1218.8 L206.4,1201.2"/>
</g>
<text transform="matrix(1 -0.494 0 1 170.8 1241.8)" x="0" y="0" font-size="23.5" font-weight="bold" textLength="33.5" lengthAdjust="spacingAndGlyphs" style="stroke-width:0.9">FWD</text>
<text x="115.4" y="1280.3" font-size="17.5" style="stroke-width:0" textLength="146" lengthAdjust="spacingAndGlyphs">F3H1110-M150</text>
<!-- 90_footer -->
<text x="44" y="1442.8" font-size="33.1" textLength="913" lengthAdjust="spacingAndGlyphs">©2014 Yamaha Motor Corporation, U.S.A. All rights reserved.</text>
</svg>
</body>
</html>
